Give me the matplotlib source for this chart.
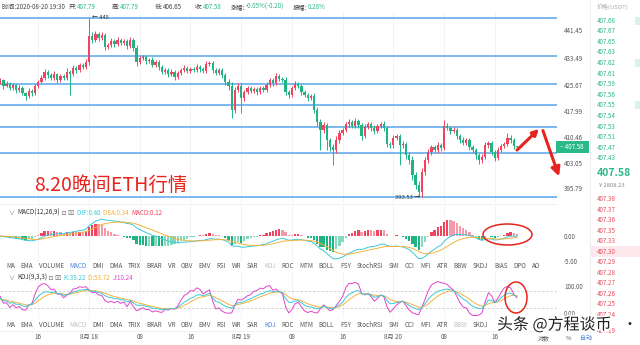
import numpy as np
import matplotlib
matplotlib.use('Agg')
import matplotlib.pyplot as plt
import matplotlib.patheffects as pe
from matplotlib.patches import Ellipse, Rectangle, FancyArrowPatch
from matplotlib.transforms import blended_transform_factory

plt.rcParams['font.family'] = ['Noto Sans CJK SC', 'DejaVu Sans']

# ETH/USDT 30 min candles (17 Aug 10:00 .. 20 Aug 19:30)
closes = [
    427.0, 425.27, 425.84, 424.69, 425.55, 424.11, 424.69, 423.24, 422.38, 423.82,
    423.24, 425.27, 426.42, 427.58, 429.31, 428.45, 427.58, 428.73, 427.0, 428.16,
    427.58, 429.31, 428.73, 430.47, 429.89, 431.34, 430.76, 432.2, 439.72, 438.56,
    440.29, 439.14, 440.0, 436.54, 437.12, 438.27, 437.4, 438.56, 437.69, 438.27,
    436.83, 438.56, 436.25, 432.2, 433.36, 433.65, 432.49, 432.78, 431.34, 432.2,
    430.76, 429.31, 429.89, 428.73, 429.31, 427.87, 429.02, 429.89, 430.47, 429.6,
    430.18, 429.89, 430.76, 430.18, 429.6, 431.62, 431.91, 429.89, 429.02, 429.89,
    428.45, 426.42, 425.27, 418.33, 424.11, 425.27, 421.8, 423.53, 424.69, 423.82,
    424.4, 423.53, 424.69, 424.11, 425.55, 427.0, 426.13, 428.16, 427.29, 427.0,
    423.53, 422.66, 424.69, 425.84, 425.27, 423.53, 422.66, 421.8, 422.38, 418.33,
    414.86, 412.55, 414.0, 409.66, 407.64, 406.77, 409.66, 411.68, 412.55, 414.28,
    414.86, 413.71, 415.15, 414.0, 410.82, 413.42, 414.28, 413.13, 412.26, 413.71,
    414.28, 413.13, 408.5, 408.22, 410.24, 410.82, 408.22, 408.5, 405.3, 403.88,
    399.55, 396.67, 394.6, 400.42, 403.88, 406.19, 407.64, 406.77, 408.22, 407.35,
    413.71, 413.13, 412.26, 412.55, 410.82, 409.66, 408.79, 409.66, 407.64, 406.77,
    405.3, 403.88, 404.75, 408.22, 408.79, 406.19, 404.46, 406.77, 407.93, 408.5,
    410.24, 409.66, 407.79, 407.58,
]
first_open = 426.4

upper_wick = [
    0.6, 0.4, 0.9, 0.5, 0.7, 0.3, 0.8, 0.5, 0.4, 0.9,
    0.5, 0.7, 0.6, 0.8, 1.0, 0.5, 0.6, 0.9, 0.4, 0.7,
    0.5, 1.2, 0.6, 0.8, 0.5, 0.7, 0.6, 0.9, 5.2, 1.1,
    0.8, 0.6, 1.0, 0.7, 0.5, 0.9, 0.6, 0.8, 0.5, 0.7,
    0.6, 0.9, 0.7, 0.8, 0.6, 0.5, 0.7, 0.6, 0.8, 0.5,
    0.6, 0.7, 0.5, 0.6, 0.8, 0.5, 0.7, 0.6, 1.0, 0.5,
    0.6, 0.7, 0.8, 0.5, 0.6, 0.9, 0.7, 0.5, 0.6, 0.5,
    0.7, 0.6, 0.8, 1.2, 1.0, 0.8, 0.9, 0.6, 0.7, 0.5,
    0.6, 0.7, 0.5, 0.6, 0.8, 0.7, 0.5, 0.9, 0.6, 0.5,
    0.8, 0.6, 0.7, 0.9, 0.5, 0.6, 0.5, 0.7, 0.6, 0.8,
    1.0, 0.9, 0.8, 0.7, 0.6, 0.9, 1.1, 0.8, 0.7, 0.6,
    0.9, 0.7, 0.8, 0.6, 0.7, 0.9, 0.6, 0.5, 0.8, 0.7,
    0.6, 0.8, 0.7, 0.6, 0.9, 0.7, 0.6, 0.8, 0.7, 0.9,
    1.2, 0.8, 1.0, 1.1, 0.9, 0.8, 0.7, 0.6, 0.8, 0.7,
    1.7, 0.9, 0.6, 0.8, 0.7, 0.6, 0.8, 0.7, 0.6, 0.5,
    0.7, 0.6, 0.8, 0.9, 0.7, 0.6, 0.5, 0.8, 0.7, 0.6,
    1.4, 0.8, 0.5, 0.0,
]
lower_wick = [
    0.5, 0.8, 0.4, 0.7, 0.6, 0.9, 0.5, 0.7, 1.2, 0.6,
    0.8, 0.5, 0.7, 0.4, 0.6, 0.8, 0.5, 0.7, 0.9, 0.6,
    0.5, 0.7, 6.1, 0.6, 0.8, 0.5, 0.7, 0.6, 0.8, 0.9,
    0.6, 0.8, 0.7, 1.0, 0.6, 0.5, 0.8, 0.6, 0.7, 0.5,
    0.9, 0.6, 0.8, 1.1, 0.7, 0.6, 0.8, 0.5, 0.7, 0.6,
    0.9, 0.7, 0.6, 0.8, 0.5, 0.9, 0.6, 0.5, 0.7, 0.6,
    0.5, 0.7, 0.6, 0.8, 0.5, 0.6, 0.7, 0.9, 0.6, 0.7,
    0.8, 1.0, 1.2, 2.3, 0.9, 0.7, 4.3, 0.8, 0.6, 0.7,
    0.5, 0.8, 0.6, 0.7, 0.5, 0.6, 0.8, 0.5, 0.7, 0.6,
    0.9, 0.8, 0.6, 0.5, 0.7, 0.8, 0.6, 0.9, 0.7, 1.0,
    1.2, 5.8, 0.9, 2.9, 1.1, 4.3, 1.0, 0.8, 0.7, 0.6,
    0.8, 0.7, 0.6, 0.8, 1.3, 0.7, 0.6, 0.8, 0.9, 0.6,
    0.7, 0.8, 1.0, 0.9, 0.8, 0.7, 5.8, 0.9, 1.1, 1.2,
    1.4, 1.2, 1.07, 1.5, 1.0, 0.9, 0.8, 0.7, 0.9, 0.8,
    0.6, 0.7, 0.8, 0.6, 0.9, 0.8, 0.7, 0.6, 0.9, 0.8,
    1.0, 1.1, 0.9, 0.7, 0.8, 0.9, 1.0, 0.7, 0.6, 0.7,
    0.6, 0.8, 0.7, 0.93,
]

# hand drawn horizontal lines and the price axis ticks
level_lines = [444.83, 434.02, 425.84, 419.69, 413.50, 405.81, 393.27]
price_ticks = [441.45, 433.49, 425.67, 417.99, 410.46, 403.05, 395.79]

time_tick_idx = [12, 28, 44, 60, 76, 92, 108, 124, 140, 156]
time_tick_lbl = ['16', '8月 18', '08', '16', '8月 19', '08', '16', '8月 20', '08', '16']

indicator_tabs = ['MA', 'EMA', 'VOLUME', 'MACD', 'DMI', 'DMA', 'TRIX', 'BRAR', 'VR',
                  'OBV', 'EMV', 'RSI', 'WR', 'SAR', 'KDJ', 'ROC', 'MTM', 'BOLL', 'PSY',
                  'StochRSI', 'SMI', 'CCI', 'MFI', 'ATR', 'BBW', 'SKDJ', 'BIAS', 'DPO', 'AO']

ask_prices = ['407.68', '407.67', '407.65', '407.63', '407.62', '407.61', '407.59',
              '407.56', '407.55', '407.54', '407.53', '407.51', '407.47', '407.43']
bid_prices = ['407.38', '407.37', '407.36', '407.35', '407.33', '407.30', '407.29',
              '407.28', '407.27', '407.26', '407.25', '407.24', '407.19']

UP = '#f0445f'
DOWN = '#1fb583'
BLUE_LINE = '#6cb0ec'
GREY = '#555555'
TXT_GREEN = '#2bb98a'
RED_NOTE = '#e8231d'
C_K = '#3cc8d8'
C_D = '#f2b33d'
C_J = '#e244c8'

W, H, DPI = 640, 345, 100
fig = plt.figure(figsize=(W / DPI, H / DPI), dpi=DPI)
fig.patch.set_facecolor('white')
renderer = fig.canvas.get_renderer()


def px_axes(x0, y0, x1, y1):
    a = fig.add_axes([x0 / W, 1 - y1 / H, (x1 - x0) / W, (y1 - y0) / H])
    a.set_facecolor('none')
    for s in a.spines.values():
        s.set_visible(False)
    a.set_xticks([])
    a.yaxis.tick_right()
    a.tick_params(length=0, labelsize=4.5, labelcolor=GREY, pad=5)
    return a


def ftext(x, y, s, **kw):
    kw.setdefault('va', 'center')
    kw.setdefault('ha', 'left')
    return fig.text(x / W, 1 - y / H, s, **kw)


def text_run(x, y, parts, size, gap=0.0):
    for s, col in parts:
        t = ftext(x, y, s, color=col, fontsize=size)
        x += t.get_window_extent(renderer=renderer).width + gap
    return x


c = np.array(closes)
o = np.r_[first_open, c[:-1]]
hi = np.maximum(o, c) + np.array(upper_wick)
lo = np.minimum(o, c) - np.array(lower_wick)
idx = np.arange(len(c))
col = np.where(c >= o, UP, DOWN)

X0, X1 = 0, 557
xl = (-0.26 / 3.17, (X1 - 0.26) / 3.17)

# ---- price panel ----
ax = px_axes(X0, 12, X1, 203)
ax.set_xlim(*xl)
ax.set_ylim(391.45, 446.65)
for i in time_tick_idx:
    ax.axvline(i, color='#f1f1f1', lw=0.6, zorder=0)
ax.set_yticks(price_ticks, [f'{v:.2f}' for v in price_ticks])
ax.hlines(level_lines, xl[0], xl[1], color=BLUE_LINE, lw=1.25, zorder=1)
ax.vlines(idx, lo, hi, colors=col, lw=0.7, zorder=2)
ax.bar(idx, np.maximum(np.abs(c - o), 0.15), bottom=np.minimum(o, c), width=0.72,
       color=col, lw=0, zorder=3)
imax, imin = int(np.argmax(hi)), int(np.argmin(lo))
ax.text(imax + 1.0, hi[imax], '← 445', fontsize=4.2, color='#333333', va='center')
ax.text(imin - 0.6, lo[imin], '393.53 →', fontsize=4.2, color='#333333', va='center', ha='right')

ftext(34, 185, '8.20晚间ETH行情', color=RED_NOTE, fontsize=14)

# last price tag
fig.add_artist(Rectangle((556 / W, 1 - 153 / H), 33 / W, 12 / H, transform=fig.transFigure,
                         color=TXT_GREEN, lw=0))
ftext(560, 147, '– 407.58', color='white', fontsize=4.5)


# ---- MACD panel ----
def ema(vals, n):
    out = np.empty(len(vals))
    a = 2.0 / (n + 1)
    out[0] = vals[0]
    for k in range(1, len(vals)):
        out[k] = a * vals[k] + (1 - a) * out[k - 1]
    return out


dif = ema(c, 12) - ema(c, 26)
dea = ema(dif, 9)
macd = 2 * (dif - dea)

axm = px_axes(X0, 205, X1, 262)
axm.set_xlim(*xl)
axm.set_ylim(-5.2, 6.2)
for i in time_tick_idx:
    axm.axvline(i, color='#f1f1f1', lw=0.6, zorder=0)
axm.set_yticks([0, -5], ['0.00', '-5.00'])
prev = np.r_[0, macd[:-1]]
growing = np.abs(macd) >= np.abs(prev)
bar_col = []
for v, g in zip(macd, growing):
    if v >= 0:
        bar_col.append(UP if g else '#f59aab')
    else:
        bar_col.append(DOWN if g else '#86d9bd')
axm.bar(idx, macd, width=0.72, color=bar_col, lw=0)
axm.plot(idx, dif, color=C_K, lw=0.7)
axm.plot(idx, dea, color=C_D, lw=0.7)

text_run(8, 213, [('∨', '#888888')], 4.5)
text_run(17, 213, [('MACD(12,26,9)', '#333333'), (' ⊡ ⊠  ', '#777777'),
                   ('DIF:0.40  ', C_K), ('DEA:0.34  ', C_D), ('MACD:0.12', UP)], 4.5)

# ---- KDJ panel ----
n = len(c)
kk, dd, jj = np.empty(n), np.empty(n), np.empty(n)
k_prev, d_prev = 50.0, 50.0
for i in range(n):
    l9 = lo[max(0, i - 8):i + 1].min()
    h9 = hi[max(0, i - 8):i + 1].max()
    rsv = (c[i] - l9) / (h9 - l9) * 100 if h9 > l9 else 50.0
    k_prev = 2 / 3 * k_prev + rsv / 3
    d_prev = 2 / 3 * d_prev + k_prev / 3
    kk[i], dd[i], jj[i] = k_prev, d_prev, 3 * k_prev - 2 * d_prev

axk = px_axes(X0, 272, X1, 318)
axk.set_xlim(*xl)
axk.set_ylim(-17, 149.6)
for i in time_tick_idx:
    axk.axvline(i, color='#f1f1f1', lw=0.6, zorder=0)
axk.set_yticks([100, 0], ['100.00', '0.00'])
axk.axhline(80, color='#cfcfcf', lw=0.6, ls=(0, (3, 2)))
axk.axhline(20, color='#cfcfcf', lw=0.6, ls=(0, (3, 2)))
axk.plot(idx, jj, color=C_J, lw=0.7)
axk.plot(idx, dd, color=C_D, lw=0.7)
axk.plot(idx, kk, color=C_K, lw=0.7)

text_run(8, 278, [('∨', '#888888')], 4.5)
text_run(17, 278, [('KDJ(9,3,3)', '#333333'), (' ⊡ ⊠  ', '#777777'),
                   ('K:39.22  ', C_K), ('D:53.72  ', C_D), ('J:10.24', C_J)], 4.5)

# indicator tab rows (the last tabs of the lower row sit under the watermark)
TAB_BLUE = '#4b82da'
row1 = [(t, TAB_BLUE if t == 'MACD' else '#c0c0c0' if t == 'KDJ' else GREY) for t in indicator_tabs]
row2 = [(t, TAB_BLUE if t == 'KDJ' else '#c0c0c0' if t in ('MACD', 'BBW') else GREY)
        for t in indicator_tabs[:indicator_tabs.index('SKDJ') + 1]]
text_run(6, 266, row1, 4.5, gap=5.6)
text_run(6, 325, row2, 4.5, gap=5.6)

# time axis
tr = blended_transform_factory(axk.transData, fig.transFigure)
for i, s in zip(time_tick_idx, time_tick_lbl):
    axk.text(i, 1 - 337 / H, s, transform=tr, fontsize=4.5, color=GREY, ha='center', va='center')

for yy in (204, 331):
    fig.add_artist(plt.Line2D([0, X1 / W], [1 - yy / H] * 2, color='#eeeeee', lw=0.6))

# ---- header ----
hdr = [(2, [('时间:2020-08-20 19:30', '#444444')]),
       (69, [('开:', '#444444'), ('407.79', TXT_GREEN)]),
       (112, [('高:', '#444444'), ('407.79', TXT_GREEN)]),
       (155, [('低:', '#444444'), ('406.65', '#444444')]),
       (195, [('收:', '#444444'), ('407.58', TXT_GREEN)]),
       (231, [('涨幅:', '#444444'), ('-0.05%(-0.20)', TXT_GREEN)]),
       (293, [('振幅:', '#444444'), ('0.28%', TXT_GREEN)])]
for x, parts in hdr:
    text_run(x, 7, parts, 4.5)

# ---- order book column ----
fig.add_artist(plt.Line2D([590 / W] * 2, [0, 1], color='#eeeeee', lw=0.8))
fig.add_artist(Rectangle((590 / W, 1 - 257 / H), 50 / W, 11 / H, transform=fig.transFigure,
                         color='#fde9ed', lw=0))
for yy in (20.7, 63, 105.5):
    fig.add_artist(Rectangle((635 / W, 1 - (yy + 4) / H), 5 / W, 8 / H, transform=fig.transFigure,
                             color='#d9f3ea', lw=0))
ftext(597, 7, '价格(USDT)', color='#aaaaaa', fontsize=4.3)
for k, s in enumerate(ask_prices):
    ftext(597, 20.7 + 10.6 * k, s, color=TXT_GREEN, fontsize=4.5)
ftext(597, 173, '407.58', color=TXT_GREEN, fontsize=7.5, fontweight='bold')
ftext(599, 185, '¥ 2808.23', color='#888888', fontsize=4.2)
bid_y = [199 + 10.55 * k for k in range(len(bid_prices) - 1)] + [331]
for yy, s in zip(bid_y, bid_prices):
    ftext(597, yy, s, color='#ea4d5e', fontsize=4.5)

# bottom right controls
ftext(538, 338, '对数', color=GREY, fontsize=4.3)
ftext(566, 338, '%', color=GREY, fontsize=4.3)
ftext(580, 338, '自动', color=TAB_BLUE, fontsize=4.3)


# ---- red annotations ----
def fig_arrow(x0, y0, x1, y1, ms):
    fig.add_artist(FancyArrowPatch((x0 / W, 1 - y0 / H), (x1 / W, 1 - y1 / H),
                                   transform=fig.transFigure, arrowstyle='-|>',
                                   mutation_scale=ms, color=RED_NOTE, lw=2.2))


fig_arrow(515, 152, 541, 127, 9)
fig_arrow(542, 128, 560, 179, 13)
fig.add_artist(Ellipse((507.5 / W, 1 - 234.5 / H), 49 / W, 21 / H, transform=fig.transFigure,
                       fill=False, ec=RED_NOTE, lw=1.1))
fig.add_artist(Ellipse((516 / W, 1 - 297.5 / H), 22 / W, 31 / H, transform=fig.transFigure,
                       fill=False, ec=RED_NOTE, lw=1.1))

ftext(497, 325, '头条 @方程谈币', color='#222222', fontsize=11.5,
      path_effects=[pe.withStroke(linewidth=2.5, foreground='white')])
ftext(622, 325, '·', color='#222222', fontsize=10)

fig.savefig('out.png', dpi=DPI, facecolor='white')
